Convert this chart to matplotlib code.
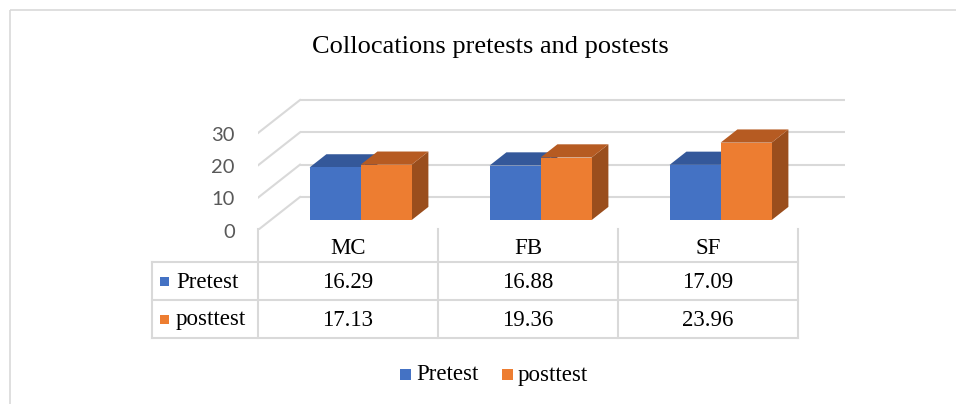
import matplotlib
matplotlib.use("Agg")
import matplotlib.pyplot as plt
from matplotlib.patches import Polygon, Rectangle
from matplotlib import transforms

# ---- data ----
categories = ["MC", "FB", "SF"]
series_names = ["Pretest", "posttest"]
pretest = [16.29, 16.88, 17.09]
posttest = [17.13, 19.36, 23.96]
yticks = [0, 10, 20, 30]

front_cols = ["#4472C4", "#ED7D31"]
top_cols = ["#34589A", "#B65B22"]
side_cols = ["#2C4C85", "#9A4E1D"]
grid_col = "#D9D9D9"
serif = ["Liberation Serif", "DejaVu Serif"]

W, H = 956, 404
fig = plt.figure(figsize=(W / 100, H / 100), dpi=100)

# overlay axes in pixel coordinates (frame, table, title, legend)
ov = fig.add_axes([0, 0, 1, 1])
ov.set_xlim(0, W)
ov.set_ylim(H, 0)
ov.axis("off")

# main plotting axes: x in category units, y in value units
x0_px, x1_px = 258, 845
y0_px, ytop_px = 230, 98
cat_px = 180.0
val_px = 3.233
ax = fig.add_axes([x0_px / W, (H - y0_px) / H, (x1_px - x0_px) / W, (y0_px - ytop_px) / H])
ax.set_xlim(0, (x1_px - x0_px) / cat_px)
ax.set_ylim(0, (y0_px - ytop_px) / val_px)
ax.axis("off")

DX = 42 / cat_px          # full depth offset, category units
DY = 33 / val_px          # full depth offset, value units
f0, fd = 0.3, 0.4         # bar front depth and bar depth fractions
bw = 51 / cat_px          # bar width

n = len(categories)
# back wall gridlines and left-side diagonals
for v in yticks:
    ax.plot([DX, n + DX + 0.03], [v + DY, v + DY], color=grid_col, lw=1.5, zorder=1,
            solid_capstyle="butt")
    ax.plot([0, DX], [v, v + DY], color=grid_col, lw=1.5, zorder=1)
    ax.text(-0.128, v - 0.7, str(v), ha="right", va="center", color="#595959",
            fontsize=14.5, family=["Lato", "DejaVu Sans"], clip_on=False)

ox, oy = f0 * DX, f0 * DY
ddx, ddy = fd * DX, fd * DY
z = 3
for i in range(n):
    c = i + 0.5
    for s, vals in enumerate([pretest, posttest]):
        val = vals[i]
        xl = c - bw + s * bw + ox
        xr = xl + bw
        bot = oy
        top = oy + val
        side = Polygon([(xr, bot), (xr + ddx, bot + ddy), (xr + ddx, top + ddy), (xr, top)],
                       closed=True, facecolor=side_cols[s], edgecolor="none", zorder=z)
        topf = Polygon([(xl, top), (xr, top), (xr + ddx, top + ddy), (xl + ddx, top + ddy)],
                       closed=True, facecolor=top_cols[s], edgecolor="none", zorder=z)
        ax.add_patch(side)
        ax.add_patch(topf)
        ax.bar(xl, val, width=bw, bottom=bot, align="edge", color=front_cols[s],
               edgecolor="none", zorder=z + 0.5)
        z += 1

# ---- outer frame ----
ov.add_patch(Rectangle((10, 10), W + 20, H + 20, facecolor="none", edgecolor=grid_col, lw=1.2))

# ---- title ----
ov.text(490, 47, "Collocations pretests and postests", ha="center", va="center",
        fontsize=19, family=serif, color="#000000")

# ---- data table ----
bt = transforms.blended_transform_factory(ax.transData, ov.transData)
row_y = [229, 262, 300, 338]
tab_left = 152
lc = "#D9D9D9"
fs = 16.5
for k in range(n + 1):
    ov.plot([k, k], [row_y[0], row_y[-1]], color=lc, lw=1.5, transform=bt, clip_on=False)
for yy in row_y[1:]:
    ov.plot([tab_left, x0_px + n * cat_px], [yy, yy], color=lc, lw=1.5)
ov.plot([tab_left, tab_left], [row_y[1], row_y[-1]], color=lc, lw=1.5)

for i, cat in enumerate(categories):
    ov.text(i + 0.5, (row_y[0] + row_y[1]) / 2 + 3, cat, transform=bt, ha="center",
            va="center", fontsize=fs, family=serif)
    for s, vals in enumerate([pretest, posttest]):
        ov.text(i + 0.5, (row_y[s + 1] + row_y[s + 2]) / 2 + 1, f"{vals[i]:.2f}", transform=bt,
                ha="center", va="center", fontsize=fs, family=serif)

for s, name in enumerate(series_names):
    yc = (row_y[s + 1] + row_y[s + 2]) / 2
    ov.add_patch(Rectangle((160, yc - 4.5), 9, 9, facecolor=front_cols[s], edgecolor="none"))
    ov.text(176, yc + 1, name, ha="left", va="center", fontsize=fs, family=serif)

# ---- legend ----
leg_y = 374
leg_x = [400, 502]
for s, name in enumerate(series_names):
    ov.add_patch(Rectangle((leg_x[s], leg_y - 5.5), 11, 11, facecolor=front_cols[s],
                           edgecolor="none"))
    ov.text(leg_x[s] + 16, leg_y + 1, name, ha="left", va="center", fontsize=fs, family=serif)

fig.savefig("out.png", dpi=100)
